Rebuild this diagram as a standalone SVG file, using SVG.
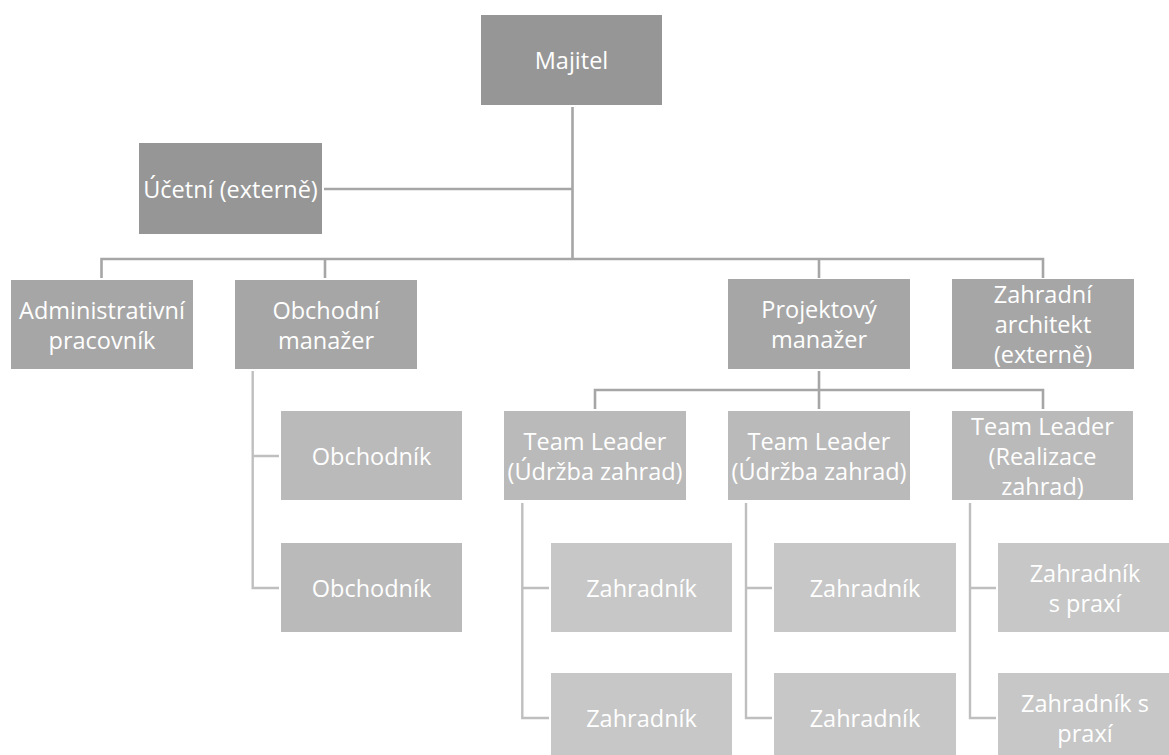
<svg xmlns="http://www.w3.org/2000/svg" width="1169" height="755" viewBox="0 0 1169 755">
<style>
  .n1 { fill: #969696; }
  .n2 { fill: #a6a6a6; }
  .n3 { fill: #bababa; }
  .n4 { fill: #c7c7c7; }
  text { font-family: "Open Sans", "Liberation Sans", sans-serif; font-size: 23.5px; fill: #ffffff; text-anchor: middle; dominant-baseline: central; }
  .c1 { stroke: #a6a6a6; stroke-width: 2.6; fill: none; }
  .c2 { stroke: #bfbfbf; stroke-width: 2.4; fill: none; }
</style>
<rect width="1169" height="755" fill="#ffffff"/>
<g id="connectors">
  <path class="c1" d="M572.5 107 V259 M324 189 H572.5 M101.5 278 V259 H1043 V278 M325 259 V278 M819 259 V278"/>
  <path class="c1" d="M819 371 V390 M595 409 V390 H1043 V409 M819 390 V409"/>
  <path class="c2" d="M252.7 371 V588 H279 M252.7 456 H279"/>
  <path class="c2" d="M522.3 503 V718 H549 M522.3 588 H549"/>
  <path class="c2" d="M746 503 V718 H772 M746 588 H772"/>
  <path class="c2" d="M970 503 V718 H996 M970 588 H996"/>
</g>
<g id="majitel"><rect class="n1" x="481" y="15" width="181" height="90"/><text x="571.5" y="60">Majitel</text></g>
<g id="ucetni"><rect class="n1" x="139" y="143" width="183" height="91"/><text x="230.5" y="188.5">Účetní (externě)</text></g>
<g id="admin"><rect class="n2" x="11" y="280" width="182" height="89"/><text x="102" y="309.5">Administrativní</text><text x="102" y="340">pracovník</text></g>
<g id="obchodni-manazer"><rect class="n2" x="235" y="280" width="182" height="89"/><text x="326" y="309.5">Obchodní</text><text x="326" y="340">manažer</text></g>
<g id="projektovy-manazer"><rect class="n2" x="728" y="279" width="182" height="90"/><text x="819" y="308.5">Projektový</text><text x="819" y="339">manažer</text></g>
<g id="zahradni-architekt"><rect class="n2" x="952" y="279" width="182" height="90"/><text x="1043" y="294">Zahradní</text><text x="1043" y="324">architekt</text><text x="1043" y="354">(externě)</text></g>
<g id="obchodnik1"><rect class="n3" x="281" y="411" width="181" height="89"/><text x="371.5" y="455.5">Obchodník</text></g>
<g id="obchodnik2"><rect class="n3" x="281" y="543" width="181" height="89"/><text x="371.5" y="587.5">Obchodník</text></g>
<g id="team-leader1"><rect class="n3" x="504" y="411" width="182" height="89"/><text x="595" y="440.5">Team Leader</text><text x="595" y="471">(Údržba zahrad)</text></g>
<g id="team-leader2"><rect class="n3" x="728" y="411" width="182" height="89"/><text x="819" y="440.5">Team Leader</text><text x="819" y="471">(Údržba zahrad)</text></g>
<g id="team-leader3"><rect class="n3" x="952" y="411" width="181" height="89"/><text x="1042.5" y="426">Team Leader</text><text x="1042.5" y="456">(Realizace</text><text x="1042.5" y="486">zahrad)</text></g>
<g id="zahradnik1"><rect class="n4" x="551" y="543" width="181" height="89"/><text x="641.5" y="587.5">Zahradník</text></g>
<g id="zahradnik2"><rect class="n4" x="551" y="673" width="181" height="89"/><text x="641.5" y="717.5">Zahradník</text></g>
<g id="zahradnik3"><rect class="n4" x="774" y="543" width="182" height="89"/><text x="865" y="587.5">Zahradník</text></g>
<g id="zahradnik4"><rect class="n4" x="774" y="673" width="182" height="89"/><text x="865" y="717.5">Zahradník</text></g>
<g id="zahradnik-praxe1"><rect class="n4" x="998" y="543" width="181" height="89"/><text x="1085" y="572.5">Zahradník</text><text x="1085" y="603">s praxí</text></g>
<g id="zahradnik-praxe2"><rect class="n4" x="998" y="673" width="181" height="89"/><text x="1085" y="702.5">Zahradník s</text><text x="1085" y="733">praxí</text></g>
</svg>
